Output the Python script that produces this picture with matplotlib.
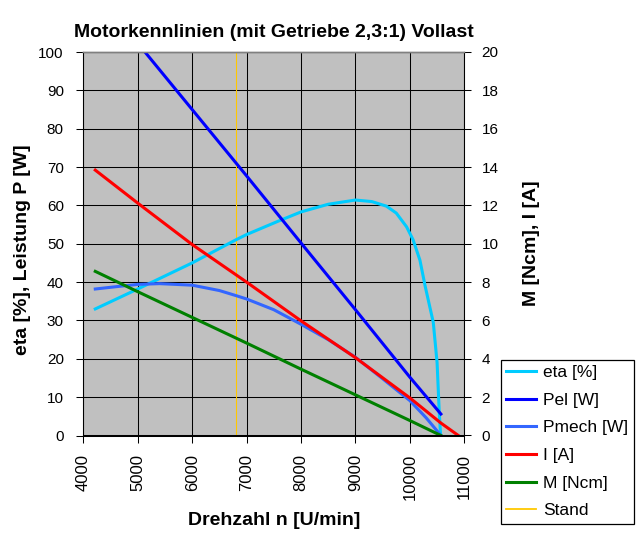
import matplotlib
matplotlib.use('Agg')
import matplotlib.pyplot as plt
from matplotlib.lines import Line2D

plt.rcParams['font.family'] = ['Liberation Sans', 'DejaVu Sans']

# ---- data ----
n_eta = [4220, 5000, 6000, 6800, 7000, 7600, 8000, 8500, 9000, 9300, 9570, 9750,
         9940, 10060, 10185, 10280, 10430, 10500, 10540, 10565]
eta = [33.0, 38.2, 45.0, 51.0, 52.4, 56.0, 58.3, 60.3, 61.4, 61.0, 59.8, 58.0,
       54.4, 51.0, 45.7, 39.0, 29.5, 19.0, 6.0, 0.0]

n_pel = [4220, 5000, 6000, 7000, 8000, 9000, 10000, 10570]
pel = [115.8, 102.3, 85.0, 67.7, 50.2, 32.8, 15.2, 5.6]

n_pmech = [4220, 4600, 5000, 5400, 6000, 6500, 6800, 7000, 7500, 8000, 8500,
           9000, 9500, 10000, 10300, 10570]
pmech = [38.2, 38.8, 39.4, 39.6, 39.2, 37.8, 36.5, 35.6, 32.8, 29.0, 25.0,
         20.4, 14.8, 9.1, 4.6, 0.0]

n_i = [4220, 5000, 6000, 7000, 8000, 9000, 10000, 10570, 10890]
current = [13.84, 12.12, 9.96, 8.0, 5.98, 4.06, 1.96, 0.65, 0.0]

n_m = [4220, 5000, 6000, 7000, 8000, 9000, 10000, 10570]
torque = [8.56, 7.50, 6.16, 4.82, 3.46, 2.12, 0.78, 0.0]

stand_n = 6800

series_labels = ['eta [%]', 'Pel [W]', 'Pmech [W]', 'I [A]', 'M [Ncm]', 'Stand']
x_ticks = [4000, 5000, 6000, 7000, 8000, 9000, 10000, 11000]
y_ticks = [0, 10, 20, 30, 40, 50, 60, 70, 80, 90, 100]
y2_ticks = [0, 2, 4, 6, 8, 10, 12, 14, 16, 18, 20]

title = 'Motorkennlinien (mit Getriebe 2,3:1) Vollast'
xlabel = 'Drehzahl n [U/min]'
ylabel = 'eta [%], Leistung P [W]'
y2label = 'M [Ncm], I [A]'

# ---- figure ----
W, H = 640, 540
fig = plt.figure(figsize=(W / 100, H / 100), dpi=100)
L, R, T, B = 83.3, 464.3, 52.0, 435.5
ax = fig.add_axes([L / W, 1 - B / H, (R - L) / W, (B - T) / H])
ax.set_facecolor('#C0C0C0')
ax2 = ax.twinx()

lw = 2.2
stand_color = '#FFC800'
ax.axvline(stand_n, color=stand_color, linewidth=0.8, zorder=1)
h_eta, = ax.plot(n_eta, eta, color='#00CCFF', linewidth=lw, zorder=3)
h_pel, = ax.plot(n_pel, pel, color='#0000FF', linewidth=lw, zorder=3)
h_pm, = ax.plot(n_pmech, pmech, color='#3366FF', linewidth=lw, zorder=3)
h_i, = ax2.plot(n_i, current, color='#FF0000', linewidth=lw, zorder=3)
h_m, = ax2.plot(n_m, torque, color='#008000', linewidth=lw, zorder=3)
h_stand = Line2D([], [], color=stand_color, linewidth=1.3)

ax.set_xlim(4000, 11000)
ax.set_ylim(0, 100)
ax2.set_ylim(0, 20)
ax.set_xticks(x_ticks)
ax.set_xticklabels([str(v) for v in x_ticks], rotation=90, fontsize=12)
ax.set_yticks(y_ticks)
ax.set_yticklabels([str(v) for v in y_ticks], fontsize=11)
ax2.set_yticks(y2_ticks)
ax2.set_yticklabels([str(v) for v in y2_ticks], fontsize=11)

ax.grid(True, color='black', linewidth=0.75)
ax.set_axisbelow(True)
ax.tick_params(axis='x', direction='out', length=5, width=0.75, pad=8, colors='black')
ax.tick_params(axis='y', direction='out', length=5, width=0.75, pad=9, colors='black')
ax2.tick_params(axis='y', direction='out', length=5, width=0.75, pad=7.5, colors='black')

for a in (ax, ax2):
    for s in ('left', 'right', 'bottom'):
        a.spines[s].set_color('black')
        a.spines[s].set_linewidth(0.75)
    a.spines['top'].set_color('#808080')
    a.spines['top'].set_linewidth(1.0)

fig.text((L + R) / 2 / W, 1 - 36.7 / H, title, ha='center', va='baseline',
         fontsize=14, fontweight='bold')
fig.text((L + R) / 2 / W, 1 - 525 / H, xlabel, ha='center', va='baseline',
         fontsize=14, fontweight='bold')
fig.text(23 / W, 1 - 250 / H, ylabel, ha='center', va='center', rotation=90,
         fontsize=14, fontweight='bold')
fig.text(531 / W, 1 - 243 / H, y2label, ha='center', va='center', rotation=90,
         fontsize=14, fontweight='bold')

handles = [h_eta, h_pel, h_pm, h_i, h_m, h_stand]
leg = fig.legend(handles, series_labels, loc='upper left',
                 bbox_to_anchor=(500.7 / W, 1 - 359.7 / H),
                 bbox_transform=fig.transFigure, borderaxespad=0,
                 fontsize=12.5, frameon=True, fancybox=False, shadow=False,
                 handlelength=1.75, handletextpad=0.4, borderpad=0.3,
                 labelspacing=0.72)
leg.get_frame().set_edgecolor('black')
leg.get_frame().set_linewidth(0.9)
leg.get_frame().set_facecolor('white')
leg.get_frame().set_alpha(1)

fig.savefig('out.png', dpi=100)
